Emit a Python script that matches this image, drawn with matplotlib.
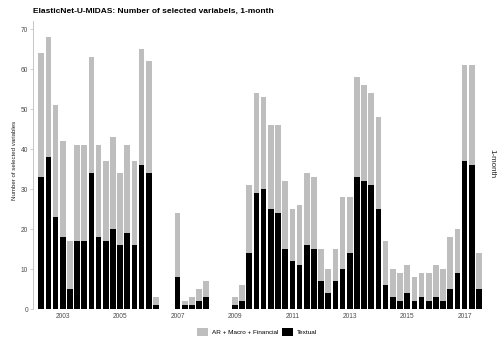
import numpy as np
import pandas as pd
import matplotlib
matplotlib.use("Agg")
import matplotlib.pyplot as plt
import matplotlib.patches as patches

plt.rcParams["font.family"] = ["Liberation Sans", "DejaVu Sans"]

# quarterly observations, 2002Q2 .. 2017Q3 (None = no selection reported)
quarters = pd.period_range("2002Q2", "2017Q3", freq="Q")
textual = [33, 38, 23, 18, 5, 17, 17, 34, 18, 17, 20, 16, 19, 16, 36, 34, 1,
           None, None, 8, 1, 1, 2, 3, None, None, None, 1, 2, 14, 29, 30, 25,
           24, 15, 12, 11, 16, 15, 7, 4, 7, 10, 14, 33, 32, 31, 25, 6, 3, 2,
           4, 2, 3, 2, 3, 2, 5, 9, 37, 36, 5]
ar_macro_fin = [31, 30, 28, 24, 12, 24, 24, 29, 23, 20, 23, 18, 22, 21, 29, 28, 2,
                None, None, 16, 1, 2, 3, 4, None, None, None, 2, 4, 17, 25, 23, 21,
                22, 17, 13, 15, 18, 18, 8, 6, 8, 18, 14, 25, 24, 23, 23, 11, 7, 7,
                7, 6, 6, 7, 8, 8, 13, 11, 24, 25, 9]
year_ticks = [2003, 2005, 2007, 2009, 2011, 2013, 2015, 2017]

labels = ["AR + Macro + Financial", "Textual"]
colors = ["#BEBEBE", "#000000"]

# decimal year of each quarter
x = np.array([q.year + (q.quarter - 1) / 4 for q in quarters])
txt = np.array(textual, dtype=float)
oth = np.array(ar_macro_fin, dtype=float)
ok = ~np.isnan(txt)

fig = plt.figure(figsize=(4.97, 3.40), dpi=100)
ax = fig.add_axes([33 / 497, (340 - 309.3) / 340, 454 / 497, 288.3 / 340])

w = 0.25 * 0.79
ax.bar(x[ok], txt[ok], width=w, color=colors[1], linewidth=0)
ax.bar(x[ok], oth[ok], width=w, bottom=txt[ok], color=colors[0], linewidth=0)

ax.set_xlim(2001.965, 2017.78)
ax.set_ylim(0, 72.1)
ax.set_xticks(year_ticks)
ax.set_xticklabels([str(y) for y in year_ticks])
ax.set_yticks(range(0, 71, 10))

for s in ["top", "right", "bottom"]:
    ax.spines[s].set_visible(False)
ax.spines["left"].set_color("#BEBEBE")
ax.spines["left"].set_linewidth(0.6)
ax.tick_params(axis="both", colors="#BEBEBE", labelcolor="#4D4D4D",
               labelsize=4.8, length=2, width=0.5, pad=1.5)
ax.tick_params(axis="x", length=0, pad=3)

fig.text(15 / 497, 1 - 160 / 340, "Number of selected variables", rotation=90,
         fontsize=4.4, color="#222222", ha="center", va="center")
fig.text(33 / 497, 1 - 11 / 340, "ElasticNet-U-MIDAS: Number of selected variabels, 1-month",
         fontsize=6.05, fontweight="bold", ha="left", va="center")
fig.text(492 / 497, 1 - 164 / 340, "1-month", rotation=270, fontsize=5.8,
         color="#222222", ha="center", va="center")

handles = [patches.Patch(facecolor=c, edgecolor="none") for c in colors]
fig.legend(handles, labels, loc="center", bbox_to_anchor=(257 / 497, 8 / 340),
           ncol=2, frameon=False, fontsize=4.6, handlelength=1.6, handleheight=1.6,
           handletextpad=0.6, columnspacing=0.7, borderpad=0)

fig.savefig("out.png", dpi=100)
